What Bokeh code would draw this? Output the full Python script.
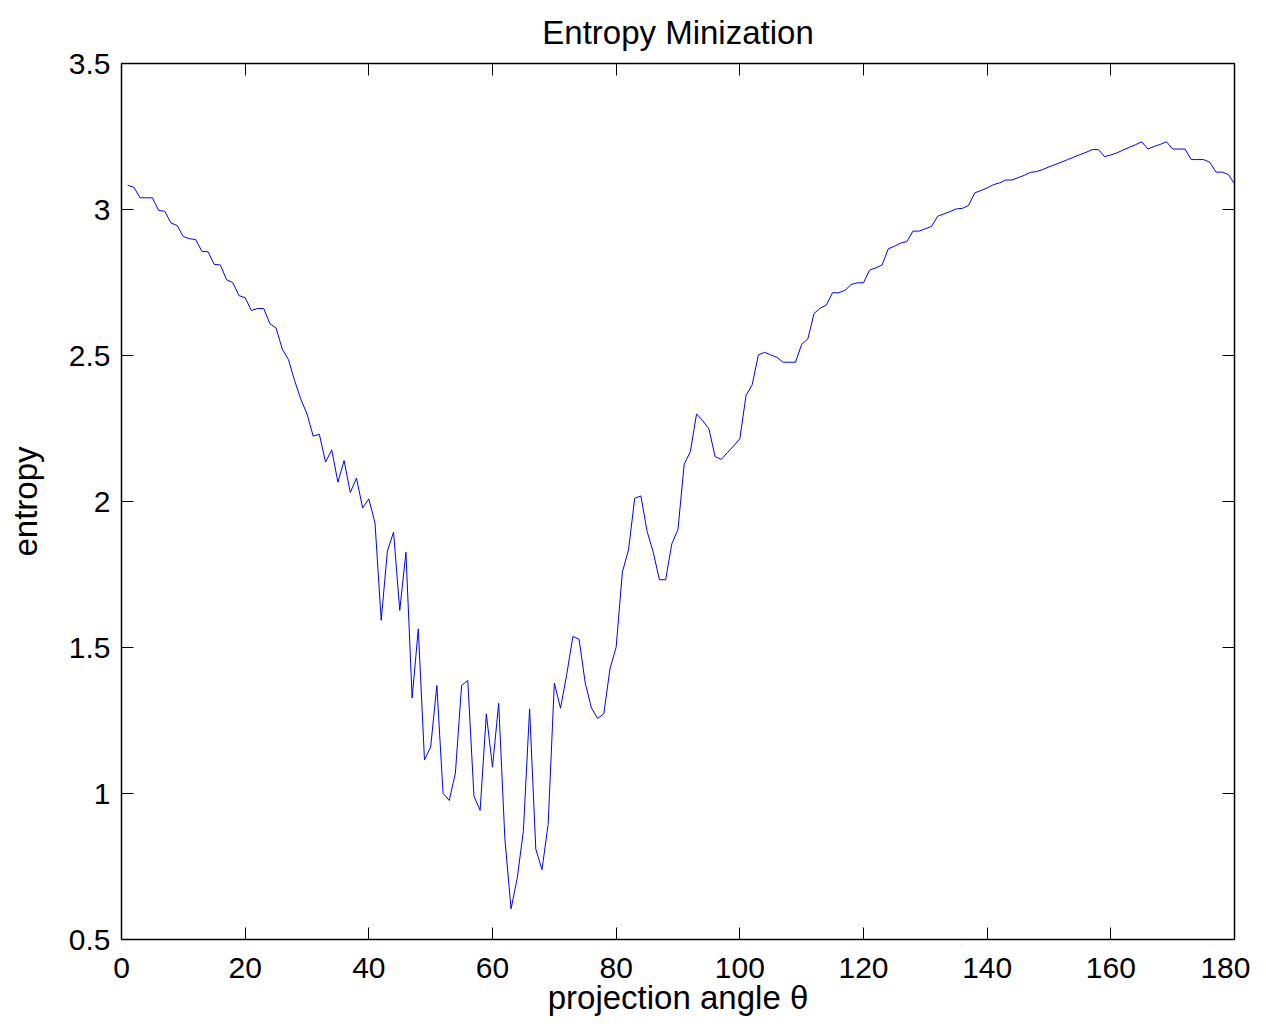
from bokeh.plotting import figure
from bokeh.models import LinearAxis, FixedTicker, Range1d, CustomJSTickFormatter
from bokeh.embed import file_html
from bokeh.resources import INLINE

# projection angle (degrees)
angle = list(range(1, 181))
# entropy values
entropy = [
    3.083, 3.076, 3.040, 3.040, 3.040, 2.997, 2.994, 2.954, 2.945, 2.907,
    2.900, 2.897, 2.857, 2.855, 2.812, 2.810, 2.759, 2.750, 2.705, 2.698,
    2.654, 2.661, 2.661, 2.609, 2.594, 2.522, 2.486, 2.414, 2.350, 2.300,
    2.224, 2.230, 2.135, 2.177, 2.066, 2.140, 2.031, 2.080, 1.978, 2.009,
    1.926, 1.593, 1.830, 1.895, 1.627, 1.826, 1.327, 1.564, 1.115, 1.159,
    1.370, 1.001, 0.976, 1.070, 1.370, 1.387, 0.991, 0.942, 1.273, 1.090,
    1.309, 0.845, 0.605, 0.710, 0.873, 1.290, 0.810, 0.739, 0.894, 1.378,
    1.292, 1.407, 1.538, 1.528, 1.378, 1.293, 1.257, 1.273, 1.427, 1.501,
    1.758, 1.835, 2.011, 2.019, 1.898, 1.826, 1.732, 1.732, 1.855, 1.905,
    2.127, 2.171, 2.300, 2.277, 2.249, 2.154, 2.144, 2.168, 2.190, 2.215,
    2.363, 2.400, 2.502, 2.511, 2.502, 2.494, 2.477, 2.477, 2.477, 2.538,
    2.557, 2.644, 2.662, 2.673, 2.715, 2.715, 2.723, 2.743, 2.749, 2.749,
    2.793, 2.800, 2.810, 2.865, 2.874, 2.885, 2.890, 2.926, 2.926, 2.934,
    2.942, 2.977, 2.985, 2.993, 3.002, 3.004, 3.014, 3.057, 3.065, 3.074,
    3.085, 3.091, 3.101, 3.101, 3.109, 3.117, 3.127, 3.130, 3.137, 3.146,
    3.154, 3.162, 3.171, 3.179, 3.188, 3.196, 3.205, 3.205, 3.181, 3.187,
    3.194, 3.204, 3.213, 3.222, 3.232, 3.207, 3.216, 3.223, 3.232, 3.207,
    3.207, 3.207, 3.171, 3.171, 3.171, 3.162, 3.128, 3.128, 3.120, 3.088,
]

x_ticks = [0, 20, 40, 60, 80, 100, 120, 140, 160, 180]
y_ticks = [0.5, 1.0, 1.5, 2.0, 2.5, 3.0, 3.5]
y_tick_labels = ["0.5", "1", "1.5", "2", "2.5", "3", "3.5"]

FONT = "Liberation Sans"

p = figure(
    width=1250, height=1019,
    x_range=Range1d(0, 180), y_range=Range1d(0.5, 3.5),
    output_backend="svg", toolbar_location=None,
    min_border_left=121, min_border_right=16,
    min_border_top=63, min_border_bottom=80,
    title="Entropy Minization",
)
p.title.align = "center"
p.title.vertical_align = "top"
p.title.text_font = FONT
p.title.text_font_size = "33px"
p.title.text_font_style = "normal"
p.title.text_color = "black"
p.title.standoff = 21

p.grid.visible = False
p.outline_line_color = None
p.background_fill_color = "white"
p.border_fill_color = "white"

p.line(angle, entropy, line_color="#0000ff", line_width=1)

def style_axis(ax, ticks, show_labels):
    ax.ticker = FixedTicker(ticks=ticks)
    ax.axis_line_color = "black"
    ax.axis_line_width = 1.5
    ax.major_tick_in = 12
    ax.major_tick_out = 0
    ax.major_tick_line_color = "black"
    ax.major_tick_line_width = 1
    ax.minor_tick_line_color = None
    if show_labels:
        ax.major_label_text_font = FONT
        ax.major_label_text_font_size = "30px"
        ax.major_label_text_color = "black"
    else:
        ax.formatter = CustomJSTickFormatter(code="return '';")
        ax.major_label_text_font_size = "0px"
        ax.major_label_standoff = 0

xa = p.xaxis[0]
style_axis(xa, x_ticks, True)
xa.major_label_standoff = 18
xa.axis_label = "projection angle θ"
xa.axis_label_text_font = FONT
xa.axis_label_text_font_size = "33px"
xa.axis_label_text_font_style = "normal"
xa.axis_label_text_color = "black"
xa.axis_label_standoff = -2

ya = p.yaxis[0]
style_axis(ya, y_ticks, True)
ya.major_label_overrides = {t: s for t, s in zip(y_ticks, y_tick_labels)}
ya.major_label_standoff = 11
ya.axis_label = "entropy"
ya.axis_label_text_font = FONT
ya.axis_label_text_font_size = "33px"
ya.axis_label_text_font_style = "normal"
ya.axis_label_text_color = "black"
ya.axis_label_standoff = 22

top = LinearAxis()
style_axis(top, x_ticks, False)
p.add_layout(top, "above")
right = LinearAxis()
style_axis(right, y_ticks, False)
p.add_layout(right, "right")

open("out.html", "w").write(file_html(p, INLINE))
